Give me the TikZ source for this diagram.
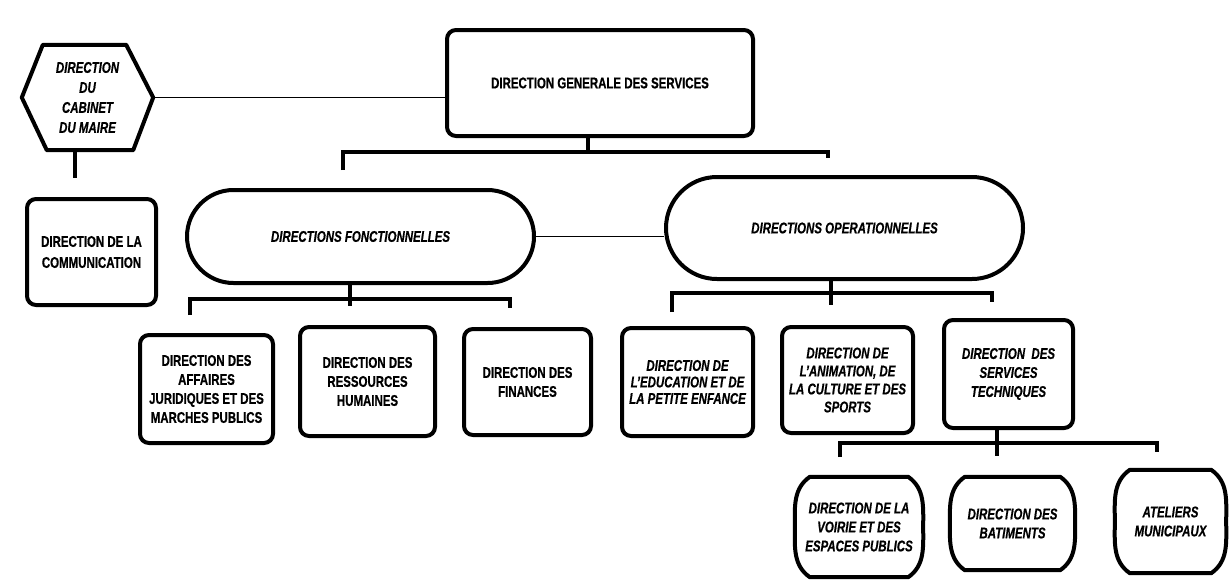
\documentclass[tikz,border=0pt]{standalone}
\usepackage{fontspec}
\setmainfont{Liberation Sans}[FakeStretch=0.74,FakeBold=0.6]
\usetikzlibrary{shapes.misc}
\newcommand\orgfont{\fontsize{15.5}{19}\selectfont\bfseries}
\tikzset{
  box/.style={draw, line width=4pt, rounded corners=9pt, align=center, inner sep=2pt, font=\orgfont},
  pill/.style={draw, line width=4pt, rounded rectangle, align=center, inner sep=2pt, font=\orgfont\itshape},
  barrel/.style={align=center, inner sep=2pt, font=\orgfont\itshape},
  outline/.style={line width=4pt, line join=round},
  bar/.style={line width=4.5pt},
  link/.style={line width=1.8pt},
}
\begin{document}
\begin{tikzpicture}[x=1pt,y=-1pt]
\fill[white] (0,0) rectangle (1230,579);
\useasboundingbox (0,0) rectangle (1230,579);

% hexagon
\node[minimum width=131pt, minimum height=105pt, inner sep=0pt, align=center, font=\orgfont\itshape\fontsize{15.5}{20}\selectfont] (hex) at (87.5,97.5) {DIRECTION\\DU\\CABINET\\DU MAIRE};
\draw[outline] (hex.west) -- ([xshift=21pt]hex.north west) -- ([xshift=-27pt]hex.north east) -- (hex.east) -- ([xshift=-20pt]hex.south east) -- ([xshift=25pt]hex.south west) -- cycle;

% top
\node[box, minimum width=306pt, minimum height=106pt] (dgs) at (600,83) {DIRECTION GENERALE DES SERVICES};
\node[box, font=\orgfont\fontsize{15.5}{21}\selectfont, minimum width=129pt, minimum height=106pt] (comm) at (91.5,252) {DIRECTION DE LA\\COMMUNICATION};

% pills
\node[pill, minimum width=351pt, minimum height=93pt] (fonct) at (360.5,236.5) {DIRECTIONS FONCTIONNELLES};
\node[pill, minimum width=361pt, minimum height=102pt] (oper) at (844.5,228) {DIRECTIONS OPERATIONNELLES};

% fonctionnelles boxes
\node[box, minimum width=133pt, minimum height=108pt] (b1) at (206.5,389) {DIRECTION DES\\AFFAIRES\\JURIDIQUES ET DES\\MARCHES PUBLICS};
\node[box, minimum width=135pt, minimum height=109pt] (b2) at (367.5,381.5) {DIRECTION DES\\RESSOURCES\\HUMAINES};
\node[box, minimum width=127pt, minimum height=106pt] (b3) at (527.5,382) {DIRECTION DES\\FINANCES};

% operationnelles boxes
\node[box, font=\orgfont\itshape\fontsize{15.5}{16.5}\selectfont, minimum width=131pt, minimum height=108pt] (b4) at (687.5,382) {DIRECTION DE\\L'EDUCATION ET DE\\LA PETITE ENFANCE};
\node[box, font=\orgfont\itshape\fontsize{15.5}{18}\selectfont, minimum width=131pt, minimum height=106pt] (b5) at (847.5,380) {DIRECTION DE\\L'ANIMATION, DE\\LA CULTURE ET DES\\SPORTS};
\node[box, font=\orgfont\itshape, minimum width=129pt, minimum height=108pt] (b6) at (1008.5,374) {DIRECTION\ \ DES\\SERVICES\\TECHNIQUES};

% techniques children
\node[barrel, minimum width=128pt, minimum height=100pt] (voirie) at (859,527) {DIRECTION DE LA\\VOIRIE ET DES\\ESPACES PUBLICS};
\node[barrel, minimum width=125pt, minimum height=93pt] (bat) at (1012.5,523.5) {DIRECTION DES\\BATIMENTS};
\node[barrel, minimum width=111pt, minimum height=103pt] (atel) at (1170.5,521.5) {ATELIERS\\MUNICIPAUX};
\foreach \n in {voirie,bat,atel}
  \draw[outline] ([xshift=15pt]\n.north west) -- ([xshift=-15pt]\n.north east)
    to[out=-35,in=90] (\n.east) to[out=-90,in=35] ([xshift=-15pt]\n.south east)
    -- ([xshift=15pt]\n.south west) to[out=145,in=-90] (\n.west)
    to[out=90,in=-145] cycle;

% connectors
\draw[link] (hex.east) -- (hex.east -| dgs.west);
\draw[link] (fonct.east) -- (fonct.east -| oper.west);

\coordinate (commtop) at (75,178);
\draw[bar, line width=3.5pt] (commtop |- hex.south) -- (commtop);

\coordinate (dgsbar) at (588,152);
\coordinate (dgsL) at (343,170);
\coordinate (dgsR) at (828,158);
\draw[bar] (dgsbar |- dgs.south) -- (dgsbar);
\draw[bar] (dgsL) -- (dgsL |- dgsbar) -- (dgsR |- dgsbar) -- (dgsR);

\coordinate (fbar) at (350,299);
\coordinate (fstem) at (350,306);
\coordinate (fL) at (190,315);
\coordinate (fR) at (510,308);
\draw[bar] (fstem |- fonct.south) -- (fstem);
\draw[bar] (fL) -- (fL |- fbar) -- (fR |- fbar) -- (fR);

\coordinate (obar) at (831,293);
\coordinate (ostem) at (831,305);
\coordinate (oL) at (672,312);
\coordinate (oR) at (992,302);
\draw[bar] (ostem |- oper.south) -- (ostem);
\draw[bar] (oL) -- (oL |- obar) -- (oR |- obar) -- (oR);

\coordinate (tbar) at (997,443);
\coordinate (tstem) at (997,456);
\coordinate (tL) at (840,457);
\coordinate (tR) at (1157,452);
\draw[bar] (tstem |- b6.south) -- (tstem);
\draw[bar] (tL) -- (tL |- tbar) -- (tR |- tbar) -- (tR);
\end{tikzpicture}
\end{document}
